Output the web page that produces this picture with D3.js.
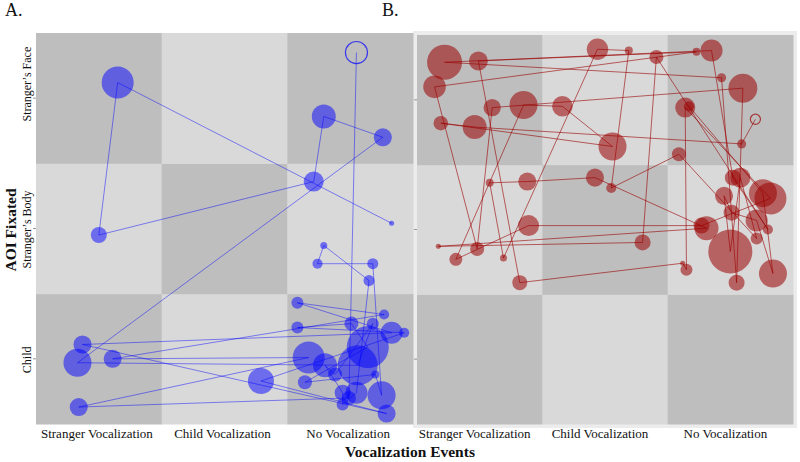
<!DOCTYPE html>
<html><head><meta charset="utf-8">
<script src="https://cdn.jsdelivr.net/npm/d3@7"></script>
<style>
body{margin:0;background:#fff}
text{font-family:"Liberation Serif","Times New Roman",serif;fill:#111}
</style>
</head><body>
<svg id="chart" width="800" height="462"></svg>
<script>
// ---------- data ----------
const categories = ["Stranger Vocalization", "Child Vocalization", "No Vocalization"];
const aoiLabels = ["Child", "Stranger\u2019s Body", "Stranger\u2019s Face"]; // bottom -> top
const panelTitles = ["A.", "B."];
const xTitle = "Vocalization Events";
const yTitle = "AOI Fixated";

// Panel A: jittered positions (category index scale 0-3), fixation durations (s); first point = start (open)
const aX = [2.55,2.49,0.34,2.17,0.61,2.77,2.08,2.83,0.37,2.79,1.79,2.93,2.08,2.51,2.64,2.14,2.70,2.75,2.68,2.24,2.29,2.65,2.55,2.44,2.44,2.30,2.38,2.68,2.56,0.33,2.76,2.29,2.21,0.50,0.65,2.83];
const aY = [2.85,0.20,0.13,0.51,0.50,0.84,0.93,0.70,0.61,0.08,0.33,0.70,0.74,0.77,0.59,0.32,0.38,0.22,1.23,1.23,1.37,1.10,0.24,0.15,0.24,0.45,0.38,0.77,0.45,0.47,2.20,2.36,1.86,1.45,2.62,1.54];
const aDur = [7.6,3.1,5.1,16,5.1,1.6,2.25,7.6,5.1,5.1,10.6,1.6,2.25,3.1,27.6,3.1,1,12.25,1.9,1.6,0.77,1.9,7.6,2.25,4,9,3.1,2.25,25,12.25,5.1,9,6.25,4,16,0.4];

// Panel B
const bX = [2.70,2.59,0.46,0.19,1.56,1.16,0.85,0.31,0.89,2.27,2.82,2.14,2.15,2.12,0.82,0.49,2.23,0.14,0.48,0.60,2.60,2.55,2.43,0.22,2.35,2.52,2.80,1.91,1.80,0.17,2.31,1.42,0.88,0.58,0.69,1.44,1.69,1.55,2.09,2.71,2.58,2.50,2.45,2.51,2.71,2.84,2.76,2.17];
const bY = [2.35,2.16,2.29,2.32,2.14,2.45,2.46,1.27,1.53,1.53,1.74,2.44,1.19,1.24,1.09,2.80,2.87,2.60,1.35,2.44,2.59,1.09,2.67,2.79,2.88,1.90,1.50,2.83,1.40,1.37,1.51,1.90,1.87,1.86,1.28,2.89,2.88,1.82,2.08,1.43,1.90,1.33,1.76,1.63,1.57,1.16,1.78,2.45];
const bDur = [1.6,1.3,9,3.3,12.25,6.6,12.25,2.6,6.9,4,16,6.25,2.25,0.4,3.5,5.6,1,8,3.1,4.7,13.1,4,1.3,19.1,7.6,4,1.6,3.1,4,0.4,9,5.1,5.1,1,0.77,7.2,1,1.6,3.1,2.25,6.25,30.25,5.1,4,7.6,12.25,12.25,1.6];

// ---------- drawing ----------
const svg = d3.select("#chart");
const rScale = d3.scaleSqrt().domain([0, 36]).range([0, 24]);

const panels = [
  {x0:36, x1:413, y0:33, y1:424, xs:aX, ys:aY, ds:aDur, color:"#0000ff", fillOp:0.5, lineOp:0.45, yAxis:true, labelShift:-2},
  {x0:417, x1:793, y0:35, y1:424, xs:bX, ys:bY, ds:bDur, color:"#9b0000", fillOp:0.55, lineOp:0.6, yAxis:false, labelShift:-5}
];

// light frame behind panel B
svg.append("rect").attr("x", 413).attr("y", 31).attr("width", 384).attr("height", 397).attr("fill", "#ececec");

panels.forEach((p, pi) => {
  const x = d3.scaleLinear().domain([0, 3]).range([p.x0, p.x1]);
  const y = d3.scaleLinear().domain([0, 3]).range([p.y1, p.y0]);
  const xb = d3.scaleBand().domain(categories).range([p.x0, p.x1]);
  const yb = d3.scaleBand().domain(aoiLabels).range([p.y1, p.y0]);

  // checkerboard
  const cells = [];
  categories.forEach((c, ci) => aoiLabels.forEach((a, ai) => cells.push({c, a, dark: (ci + ai) % 2 === 0})));
  svg.append("g").selectAll("rect").data(cells).join("rect")
    .attr("x", d => xb(d.c)).attr("y", d => yb(d.a))
    .attr("width", xb.bandwidth() + 0.5).attr("height", yb.bandwidth() + 0.5)
    .attr("fill", d => d.dark ? "#bebebe" : "#d9d9d9");

  const pts = p.xs.map((v, i) => ({x: v, y: p.ys[i], d: p.ds[i], start: i === 0}));

  // circles
  svg.append("g").selectAll("circle").data(pts).join("circle")
    .attr("cx", d => x(d.x)).attr("cy", d => y(d.y)).attr("r", d => rScale(d.d))
    .attr("fill", d => d.start ? "none" : p.color)
    .attr("fill-opacity", p.fillOp)
    .attr("stroke", d => d.start ? p.color : "none")
    .attr("stroke-opacity", 0.7).attr("stroke-width", 1.2);

  // trajectory
  const line = d3.line().x(d => x(d.x)).y(d => y(d.y));
  svg.append("path").datum(pts).attr("d", line)
    .attr("fill", "none").attr("stroke", p.color)
    .attr("stroke-opacity", p.lineOp).attr("stroke-width", 1);

  // x axis
  const gx = svg.append("g").attr("transform", `translate(0,${p.y1})`)
    .call(d3.axisBottom(xb).tickSize(0));
  gx.select(".domain").remove();
  gx.selectAll("text").attr("y", 13.5).attr("dy", 0).attr("dx", p.labelShift)
    .style("font-size", "13px").style("font-family", "Liberation Serif, serif").attr("fill", "#111");

  // y axis ticks
  const gy = svg.append("g").attr("transform", `translate(${p.x0},0)`)
    .call(d3.axisLeft(yb).tickSize(3).tickPadding(5));
  gy.select(".domain").remove();
  gy.selectAll("line").attr("stroke", "#999");
  if (p.yAxis) {
    gy.selectAll("text")
      .attr("transform", "rotate(-90)")
      .attr("x", d => d === aoiLabels[2] ? 14 : -1).attr("y", -5).attr("dy", 0)
      .style("text-anchor", "middle").style("font-size", "12px")
      .style("font-family", "Liberation Serif, serif").attr("fill", "#111");
  } else {
    gy.selectAll("text").remove();
  }
});

// panel titles
svg.append("text").attr("x", 5).attr("y", 16).style("font-size", "18px").text(panelTitles[0]);
svg.append("text").attr("x", 382).attr("y", 16).style("font-size", "18px").text(panelTitles[1]);

// axis titles
svg.append("text").attr("x", 410).attr("y", 457).attr("text-anchor", "middle")
  .style("font-size", "15.5px").style("font-weight", "bold").text(xTitle);
svg.append("text").attr("transform", "translate(16,230) rotate(-90)").attr("text-anchor", "middle")
  .style("font-size", "15.5px").style("font-weight", "bold").text(yTitle);
</script>
</body></html>
